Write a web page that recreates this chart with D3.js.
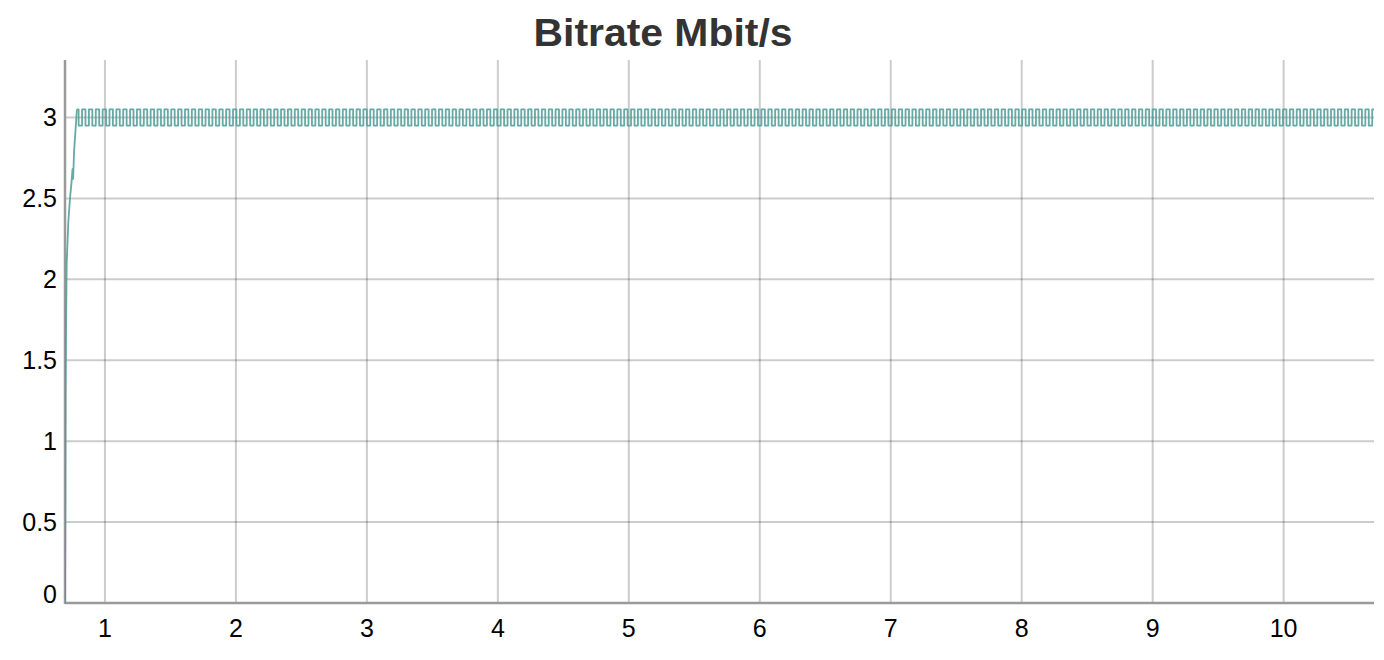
<!DOCTYPE html>
<html>
<head>
<meta charset="utf-8">
<title>Bitrate Mbit/s</title>
<style>
body, html {
  margin: 0;
  background: white;
}
svg {
  position: absolute;
  top: 0;
  left: 0;
}
.grid line {
  stroke: #000;
  stroke-opacity: .2;
  stroke-width: 2px;
}
.axis-line {
  stroke: #9a9a9a;
  stroke-width: 2.5px;
}
.tick-label {
  font-family: "Liberation Sans", Arial, sans-serif;
  font-size: 25px;
  fill: #000;
}
.title {
  font-family: "Liberation Sans", Arial, sans-serif;
  font-weight: bold;
  font-size: 38px;
  fill: #333;
}
.bitrate {
  fill: none;
  stroke: #4c9a95;
  stroke-opacity: .85;
  stroke-width: 1.8px;
  stroke-linejoin: round;
}
</style>
</head>
<body>
<script src="https://cdn.jsdelivr.net/npm/d3@7/dist/d3.min.js"></script>
<script>
// time axis ticks (seconds) and bitrate ticks
var xTicks = [1, 2, 3, 4, 5, 6, 7, 8, 9, 10];
var yTicks = [0, 0.5, 1, 1.5, 2, 2.5, 3];

// ramp-up at the start of the stream
var rampTimes  = [0.695, 0.698, 0.700, 0.703, 0.708, 0.720, 0.733, 0.745, 0.752, 0.757, 0.765, 0.786];
var rampValues = [0.00,  0.60,  1.30,  1.70,  2.10,  2.35,  2.50,  2.60,  2.68,  2.62,  2.80,  3.05];

// steady state, one sample every 26.2 ms
var waveStart = 0.812;
var waveStep = 0.0262;
var waveValues = [
  2.95,3.05,2.95,3.05,2.95,3.05,2.95,3.05,2.95,3.05,2.95,3.05,2.95,3.05,2.95,3.05,2.95,3.05,2.95,3.05,
  2.95,3.05,2.95,3.05,2.95,3.05,2.95,3.05,2.95,3.05,2.95,3.05,2.95,3.05,2.95,3.05,2.95,3.05,2.95,3.05,
  2.95,3.05,2.95,3.05,2.95,3.05,2.95,3.05,2.95,3.05,2.95,3.05,2.95,3.05,2.95,3.05,2.95,3.05,2.95,3.05,
  2.95,3.05,2.95,3.05,2.95,3.05,2.95,3.05,2.95,3.05,2.95,3.05,2.95,3.05,2.95,3.05,2.95,3.05,2.95,3.05,
  2.95,3.05,2.95,3.05,2.95,3.05,2.95,3.05,2.95,3.05,2.95,3.05,2.95,3.05,2.95,3.05,2.95,3.05,2.95,3.05,
  2.95,3.05,2.95,3.05,2.95,3.05,2.95,3.05,2.95,3.05,2.95,3.05,2.95,3.05,2.95,3.05,2.95,3.05,2.95,3.05,
  2.95,3.05,2.95,3.05,2.95,3.05,2.95,3.05,2.95,3.05,2.95,3.05,2.95,3.05,2.95,3.05,2.95,3.05,2.95,3.05,
  2.95,3.05,2.95,3.05,2.95,3.05,2.95,3.05,2.95,3.05,2.95,3.05,2.95,3.05,2.95,3.05,2.95,3.05,2.95,3.05,
  2.95,3.05,2.95,3.05,2.95,3.05,2.95,3.05,2.95,3.05,2.95,3.05,2.95,3.05,2.95,3.05,2.95,3.05,2.95,3.05,
  2.95,3.05,2.95,3.05,2.95,3.05,2.95,3.05,2.95,3.05,2.95,3.05,2.95,3.05,2.95,3.05,2.95,3.05,2.95,3.05,
  2.95,3.05,2.95,3.05,2.95,3.05,2.95,3.05,2.95,3.05,2.95,3.05,2.95,3.05,2.95,3.05,2.95,3.05,2.95,3.05,
  2.95,3.05,2.95,3.05,2.95,3.05,2.95,3.05,2.95,3.05,2.95,3.05,2.95,3.05,2.95,3.05,2.95,3.05,2.95,3.05,
  2.95,3.05,2.95,3.05,2.95,3.05,2.95,3.05,2.95,3.05,2.95,3.05,2.95,3.05,2.95,3.05,2.95,3.05,2.95,3.05,
  2.95,3.05,2.95,3.05,2.95,3.05,2.95,3.05,2.95,3.05,2.95,3.05,2.95,3.05,2.95,3.05,2.95,3.05,2.95,3.05,
  2.95,3.05,2.95,3.05,2.95,3.05,2.95,3.05,2.95,3.05,2.95,3.05,2.95,3.05,2.95,3.05,2.95,3.05,2.95,3.05,
  2.95,3.05,2.95,3.05,2.95,3.05,2.95,3.05,2.95,3.05,2.95,3.05,2.95,3.05,2.95,3.05,2.95,3.05,2.95,3.05,
  2.95,3.05,2.95,3.05,2.95,3.05,2.95,3.05,2.95,3.05,2.95,3.05,2.95,3.05,2.95,3.05,2.95,3.05,2.95,3.05,
  2.95,3.05,2.95,3.05,2.95,3.05,2.95,3.05,2.95,3.05,2.95,3.05,2.95,3.05,2.95,3.05,2.95,3.05,2.95,3.05,
  2.95,3.05,2.95,3.05,2.95,3.05,2.95,3.05,2.95,3.05,2.95,3.05,2.95,3.05,2.95,3.05,2.95,3.05,2.95,3.05
];

var width = 1384, height = 660;
var margin = {top: 60, right: 10, bottom: 57, left: 65};

var svg = d3.select("body").append("svg")
    .attr("width", width)
    .attr("height", height);

var x = d3.scaleLinear()
    .domain([0.695, 10.69])
    .range([margin.left, width - margin.right]);

var y = d3.scaleLinear()
    .domain([0, 3.355])
    .range([height - margin.bottom, margin.top]);

var ramp = rampTimes.map(function(t, i) { return {t: t, v: rampValues[i]}; });
var wave = [ramp[ramp.length - 1]].concat(waveValues.map(function(v, i) {
  return {t: waveStart + i * waveStep, v: v};
}));

svg.append("text")
    .attr("class", "title")
    .attr("x", 663)
    .attr("y", 46)
    .attr("text-anchor", "middle")
    .attr("textLength", 259)
    .attr("lengthAdjust", "spacingAndGlyphs")
    .text("Bitrate Mbit/s");

// grid
var grid = svg.append("g").attr("class", "grid");
grid.selectAll(".hx")
    .data(yTicks.slice(1))
  .enter().append("line")
    .attr("x1", x.range()[0]).attr("x2", x.range()[1])
    .attr("y1", function(d) { return y(d); })
    .attr("y2", function(d) { return y(d); });
grid.selectAll(".vx")
    .data(xTicks)
  .enter().append("line")
    .attr("y1", y.range()[0]).attr("y2", y.range()[1])
    .attr("x1", function(d) { return x(d); })
    .attr("x2", function(d) { return x(d); });

// axis lines
svg.append("line").attr("class", "axis-line")
    .attr("x1", x.range()[0]).attr("x2", x.range()[0])
    .attr("y1", y.range()[0] + 1).attr("y2", y.range()[1]);
svg.append("line").attr("class", "axis-line")
    .attr("x1", x.range()[0]).attr("x2", x.range()[1])
    .attr("y1", y.range()[0]).attr("y2", y.range()[0]);

// tick labels
svg.selectAll(".ylab")
    .data(yTicks)
  .enter().append("text")
    .attr("class", "tick-label")
    .attr("x", 57)
    .attr("y", function(d) { return d === 0 ? y(d) - 9 : y(d); })
    .attr("dy", "0.36em")
    .attr("text-anchor", "end")
    .text(function(d) { return d; });

svg.selectAll(".xlab")
    .data(xTicks)
  .enter().append("text")
    .attr("class", "tick-label")
    .attr("x", function(d) { return x(d); })
    .attr("y", 637)
    .attr("text-anchor", "middle")
    .text(function(d) { return d; });

svg.append("clipPath").attr("id", "clip")
  .append("rect")
    .attr("x", x.range()[0]).attr("y", 0)
    .attr("width", x.range()[1] - x.range()[0])
    .attr("height", height);

var rampLine = d3.line()
    .x(function(d) { return x(d.t); })
    .y(function(d) { return y(d.v); });

var waveLine = d3.line()
    .curve(d3.curveStep)
    .x(function(d) { return x(d.t); })
    .y(function(d) { return y(d.v); });

svg.append("path")
    .datum(ramp)
    .attr("class", "bitrate")
    .attr("clip-path", "url(#clip)")
    .attr("d", rampLine);

svg.append("path")
    .datum(wave)
    .attr("class", "bitrate")
    .attr("clip-path", "url(#clip)")
    .attr("d", waveLine);
</script>
</body>
</html>
